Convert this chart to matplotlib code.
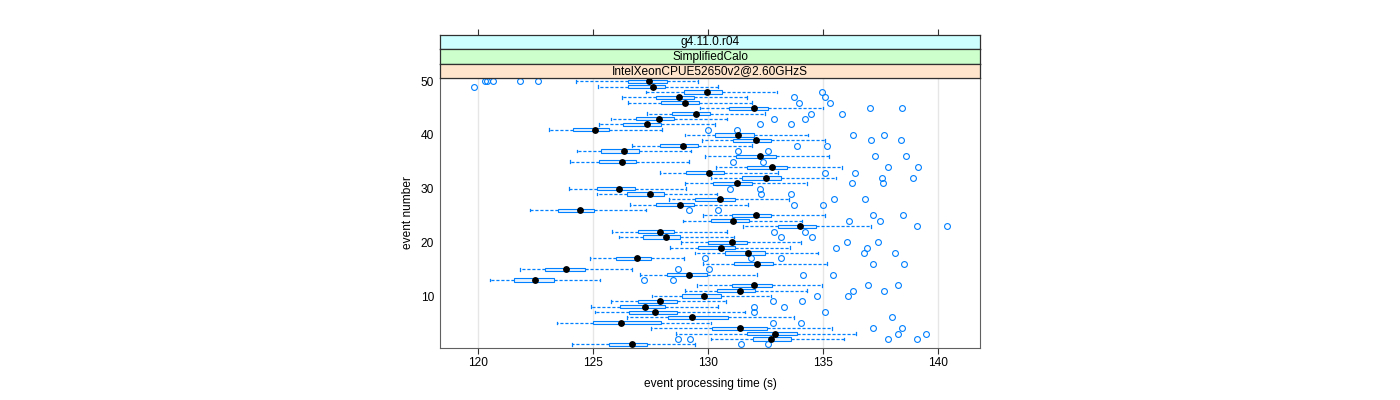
import matplotlib
matplotlib.use("Agg")
import matplotlib.pyplot as plt

# one box per event, values in seconds
events = list(range(1, 51))
whisker_lo = [124.07, 130.13, 128.62, 127.52, 123.42, 126.47, 125.09, 124.90, 125.77, 127.56,
              128.98, 129.50, 120.49, 127.03, 121.83, 129.80, 124.84, 129.44, 128.32, 128.80,
              126.12, 125.82, 131.51, 128.89, 129.77, 122.23, 126.60, 128.28, 125.16, 123.96,
              128.98, 130.13, 127.89, 130.36, 124.00, 129.88, 124.29, 126.67, 129.73, 128.98,
              123.07, 125.23, 125.78, 127.32, 129.64, 126.51, 126.26, 127.28, 125.20, 124.23]
q1 = [125.67, 131.94, 131.70, 130.17, 124.99, 128.26, 126.54, 126.18, 126.93, 128.87,
      130.39, 131.02, 121.53, 128.20, 122.92, 131.11, 125.98, 130.72, 129.54, 130.01,
      127.18, 126.93, 133.03, 130.12, 131.03, 123.46, 127.72, 129.45, 126.45, 125.16,
      130.21, 131.47, 129.03, 131.71, 125.23, 131.20, 125.34, 127.90, 131.08, 130.28,
      124.13, 126.30, 126.87, 128.43, 130.91, 127.93, 127.72, 128.96, 126.51, 126.52]
median = [126.67, 132.75, 132.90, 131.37, 126.22, 129.30, 127.67, 127.27, 127.92, 129.84,
          131.37, 131.99, 122.46, 129.15, 123.82, 132.14, 126.91, 131.75, 130.55, 131.03,
          128.17, 127.89, 134.02, 131.09, 132.08, 124.42, 128.76, 130.51, 127.47, 126.13,
          131.24, 132.52, 130.06, 132.77, 126.24, 132.25, 126.33, 128.92, 132.10, 131.30,
          125.09, 127.32, 127.86, 129.49, 131.99, 129.00, 128.75, 129.97, 127.58, 127.43]
q3 = [127.34, 133.59, 133.85, 132.57, 127.95, 130.86, 128.65, 128.11, 128.65, 130.57,
      132.03, 132.80, 123.28, 129.95, 124.63, 132.82, 127.51, 132.46, 131.18, 131.69,
      128.79, 128.52, 134.68, 131.77, 132.76, 125.05, 129.37, 131.16, 128.10, 126.81,
      131.93, 133.19, 130.68, 133.45, 126.88, 132.94, 126.99, 129.58, 132.76, 131.98,
      125.70, 127.94, 128.51, 130.10, 132.62, 129.61, 129.38, 130.61, 128.14, 128.19]
whisker_hi = [129.45, 135.92, 136.42, 135.41, 130.13, 133.73, 131.60, 130.44, 130.77, 132.73,
              134.31, 134.98, 125.29, 132.14, 126.70, 135.16, 128.93, 134.80, 133.58, 134.06,
              131.15, 130.82, 137.09, 134.10, 135.10, 127.29, 131.72, 133.51, 130.37, 129.06,
              134.29, 135.55, 133.06, 135.82, 129.18, 135.28, 129.24, 131.90, 135.10, 134.33,
              127.99, 130.28, 130.83, 132.46, 135.01, 131.93, 131.70, 133.00, 130.43, 129.55]
outliers = [
    [131.45, 132.63], [128.69, 129.23, 137.84, 139.11], [138.27, 139.50], [137.19, 138.43],
    [132.82, 134.05], [138.03], [131.99, 135.07], [131.99, 133.32], [132.82, 134.10],
    [134.75, 136.10], [136.33, 137.65], [136.97, 138.26], [127.23, 128.47], [134.12, 135.44],
    [128.68, 130.03], [137.18, 138.54], [129.86, 131.87, 133.16], [136.78, 138.12],
    [135.59, 136.91], [136.06, 137.42], [133.19, 134.51], [132.88, 134.24], [139.08, 140.40],
    [136.13, 137.48], [137.18, 138.50], [129.18, 130.43], [133.72, 135.01], [135.49, 136.84],
    [132.31, 133.60], [130.97, 132.25], [136.27, 137.60], [137.57, 138.91], [135.09, 136.40],
    [137.84, 139.16], [131.08, 132.37], [137.27, 138.62], [131.30, 132.59], [133.85, 135.19],
    [137.09, 138.41], [136.30, 137.65], [130.00, 131.25], [132.27, 133.61], [132.88, 134.22],
    [134.49, 135.83], [137.07, 138.43], [133.96, 135.29], [133.76, 135.08], [134.97],
    [119.81], [120.27, 120.36, 120.62, 121.81, 122.61],
]

x_ticks = [120, 125, 130, 135, 140]
y_ticks = [10, 20, 30, 40, 50]
strip_labels = ["g4.11.0.r04", "SimplifiedCalo", "IntelXeonCPUE52650v2@2.60GHzS"]
strip_colors = ["#ccffff", "#ccffcc", "#ffe5cc"]

BLUE = "#0080ff"
FS = 8.6
plt.rcParams["font.family"] = ["Liberation Sans", "DejaVu Sans"]

W, H = 1400, 400


def px_box(left, top, right, bottom):
    return [left / W, 1 - bottom / H, (right - left) / W, (bottom - top) / H]


fig = plt.figure(figsize=(14, 4), dpi=100)
ax = fig.add_axes(px_box(440.3, 78.3, 980, 347.7))

stats = []
for i in range(len(events)):
    stats.append(dict(whislo=whisker_lo[i], q1=q1[i], med=median[i], q3=q3[i],
                      whishi=whisker_hi[i], fliers=outliers[i]))

ax.bxp(stats, positions=events, widths=0.6, orientation="horizontal",
       patch_artist=True, showfliers=True, manage_ticks=False, capwidths=0.5,
       boxprops=dict(facecolor="#e6f2ff", edgecolor=BLUE, linewidth=0.8),
       whiskerprops=dict(color=BLUE, linestyle=(0, (2.5, 1.5)), linewidth=0.9),
       capprops=dict(color=BLUE, linewidth=0.9),
       medianprops=dict(visible=False),
       flierprops=dict(marker="o", markerfacecolor="none", markeredgecolor=BLUE,
                       markersize=4.2, markeredgewidth=0.8, linestyle="none"))
ax.plot(median, events, "o", color="black", markersize=3.9, zorder=5)

ax.set_xlim(118.34, 141.84)
ax.set_ylim(0.37, 50.56)
ax.set_xticks(x_ticks)
ax.set_yticks(y_ticks)
ax.grid(axis="x", color="#e6e6e6", linewidth=1)
ax.set_axisbelow(True)
ax.tick_params(axis="x", length=4, width=0.8, color="#333333", pad=3, labelsize=FS)
ax.tick_params(axis="y", length=0, pad=4.5, labelsize=FS)
for sp in ax.spines.values():
    sp.set_color("#606060")

# strips on top of the panel
strip_edges = [34.7, 49.3, 63.8, 78.3]
for i, (label, color) in enumerate(zip(strip_labels, strip_colors)):
    sax = fig.add_axes(px_box(440.3, strip_edges[i], 980, strip_edges[i + 1]))
    sax.set_facecolor(color)
    sax.set_xlim(ax.get_xlim())
    sax.set_ylim(0, 1)
    sax.set_yticks([])
    if i == 0:
        sax.set_xticks(x_ticks)
        sax.tick_params(axis="x", top=True, bottom=False, labeltop=False,
                        labelbottom=False, length=4, width=0.8, color="#333333")
    else:
        sax.set_xticks([])
    for sp in sax.spines.values():
        sp.set_color("#303030")
        sp.set_linewidth(0.9)
    sax.text(0.5, 0.47, label, transform=sax.transAxes, ha="center", va="center",
             fontsize=FS)

fig.text(710 / W, 1 - 384 / H, "event processing time (s)", ha="center", va="center",
         fontsize=FS)
fig.text(408 / W, 1 - 213 / H, "event number", ha="center", va="center",
         rotation=90, fontsize=FS)

fig.savefig("out.png", dpi=100)
